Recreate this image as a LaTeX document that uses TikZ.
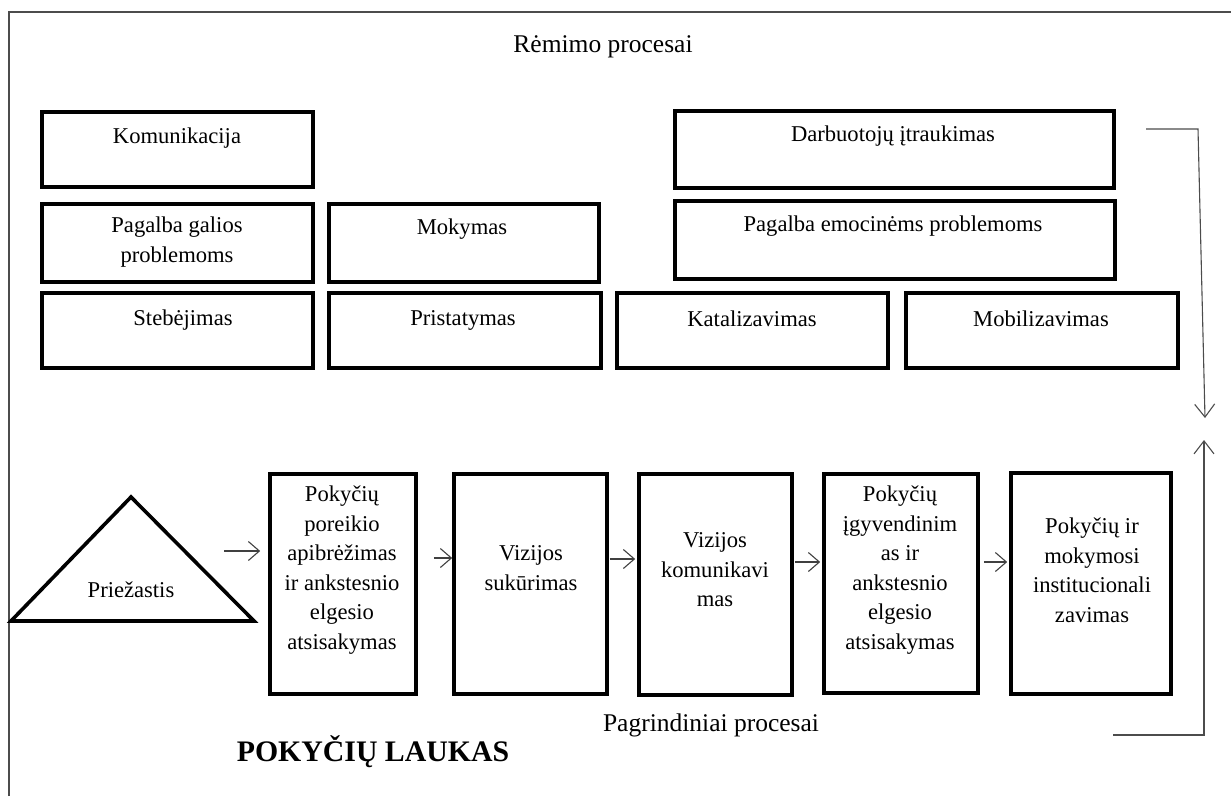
\documentclass[tikz,border=0pt]{standalone}
\usepackage{fontspec}
\setmainfont{Liberation Serif}
\usetikzlibrary{arrows.meta,fit,calc}

\begin{document}
\begin{tikzpicture}[x=1pt,y=-1pt,
  frame/.style={draw=black,line width=3.6pt,inner sep=0pt},
  lbl/.style={font=\fontsize{22.6}{29.5}\selectfont,align=center,inner sep=0pt,text=black},
  head/.style={lbl,font=\fontsize{25.5}{30}\selectfont},
  link/.style={draw=black!75,line width=1.1pt,-{Straight Barb[length=11pt,width=19pt]}},
  loop/.style={draw=black!70,line width=1.1pt,-{Straight Barb[length=13pt,width=20pt]}},
]
\useasboundingbox (0,0) rectangle (1231,796);

% outer frame (top and left edges)
\draw[black!70,line width=1.6pt] (9,796) -- (9,12) -- (1231,12);

% support processes
\node[head] (remimo) at (603,47) {Rėmimo procesai};

\node[frame,fit={(42,112)(313,187)}] (kom) {};
\node[lbl] (kom-t) at (177,138) {Komunikacija};

\node[frame,fit={(42,204)(313,282)}] (galia) {};
\node[lbl] (galia-t) at (177,242) {Pagalba galios\\problemoms};

\node[frame,fit={(42,293)(313,368)}] (steb) {};
\node[lbl] (steb-t) at (183,320) {Stebėjimas};

\node[frame,fit={(329,204)(599,282)}] (mok) {};
\node[lbl] (mok-t) at (462,229) {Mokymas};

\node[frame,fit={(329,293)(601,368)}] (prist) {};
\node[lbl] (prist-t) at (463,320) {Pristatymas};

\node[frame,fit={(617,293)(888,368)}] (kat) {};
\node[lbl] (kat-t) at (752,319) {Katalizavimas};

\node[frame,fit={(906,293)(1178,368)}] (mob) {};
\node[lbl] (mob-t) at (1041,319) {Mobilizavimas};

\node[frame,fit={(675,111)(1114,188)}] (darb) {};
\node[lbl] (darb-t) at (893,136) {Darbuotojų įtraukimas};

\node[frame,fit={(675,201)(1115,279)}] (emoc) {};
\node[lbl] (emoc-t) at (893,226) {Pagalba emocinėms problemoms};

% cause
\draw[black,line width=3.6pt,line join=miter] (131,497) -- (254,621) -- (11,621) -- cycle;
\node[lbl] (cause) at (131,590) {Priežastis};

% main processes
\node[frame,fit={(270,474)(416,694)}] (b1) {};
\node[lbl] (b1-t) at (342,570) {Pokyčių\\poreikio\\apibrėžimas\\ir ankstesnio\\elgesio\\atsisakymas};

\node[frame,fit={(454,474)(607,694)}] (b2) {};
\node[lbl] (b2-t) at (531,568) {Vizijos\\sukūrimas};

\node[frame,fit={(639,474)(792,695)}] (b3) {};
\node[lbl] (b3-t) at (715,570) {Vizijos\\komunikavi\\mas};

\node[frame,fit={(824,474)(978,693)}] (b4) {};
\node[lbl] (b4-t) at (900,570) {Pokyčių\\įgyvendinim\\as ir\\ankstesnio\\elgesio\\atsisakymas};

\node[frame,fit={(1011,473)(1171,694)}] (b5) {};
\node[lbl] (b5-t) at (1092,570) {Pokyčių ir\\mokymosi\\institucionali\\zavimas};

\node[head] (pagr) at (711,725) {Pagrindiniai procesai};
\node[lbl,font=\fontsize{29.8}{34}\selectfont\bfseries] (field) at (373,752) {POKYČIŲ LAUKAS};

% connectors along the main chain
\coordinate (c-out) at (224,551);
\coordinate (y12) at (0,558);
\coordinate (y23) at (0,559);
\coordinate (y34) at (0,562);
\draw[link] (c-out) -- ($(b1.west |- c-out)+(-8,0)$);
\draw[link] ($(b1.east |- y12)+(16,0)$) -- (b2.west |- y12);
\draw[link] ($(b2.east |- y23)+(1,0)$) -- ($(b3.west |- y23)+(-2,0)$);
\draw[link] ($(b3.east |- y34)+(1,0)$) -- ($(b4.west |- y34)+(-2,0)$);
\draw[link] ($(b4.east |- y34)+(4,0)$) -- ($(b5.west |- y34)+(-2,0)$);

% feedback between the two process groups
\coordinate (top-in) at (1146,129);
\coordinate (top-turn) at (1198,129);
\coordinate (top-end) at (1205,418);
\draw[loop] (top-in) -- (top-turn) -- (top-end);

\coordinate (bot-in) at (1113,735);
\coordinate (bot-turn) at (1204,735);
\coordinate (bot-end) at (1204,440);
\draw[loop] (bot-in) -- (bot-turn) -- (bot-end);
\end{tikzpicture}
\end{document}
